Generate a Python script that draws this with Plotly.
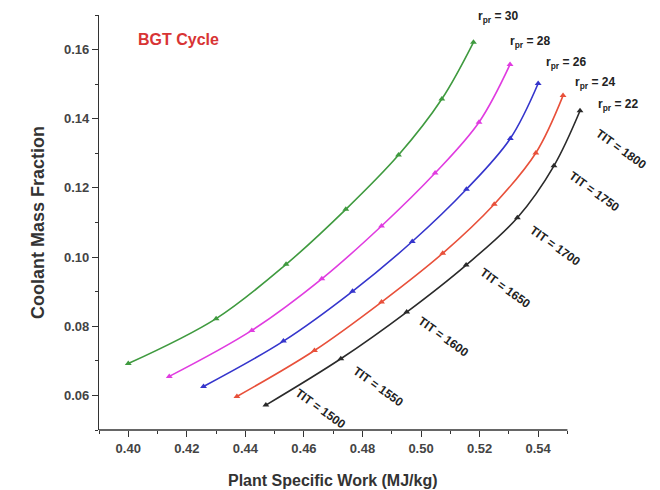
import plotly.graph_objects as go

# ---- data ----
pressure_ratios = [30, 28, 26, 24, 22]
tit_values = [1500, 1550, 1600, 1650, 1700, 1750, 1800]

work_rp30 = [0.400, 0.430, 0.4539, 0.4743, 0.4923, 0.5071, 0.5179]
cmf_rp30 = [0.0692, 0.0822, 0.0979, 0.1138, 0.1295, 0.1457, 0.1621]

work_rp28 = [0.414, 0.4422, 0.4661, 0.4865, 0.5048, 0.5198, 0.5304]
cmf_rp28 = [0.0655, 0.0788, 0.0937, 0.109, 0.1243, 0.139, 0.1557]

work_rp26 = [0.4257, 0.453, 0.4766, 0.497, 0.5155, 0.5305, 0.540]
cmf_rp26 = [0.0626, 0.0757, 0.0901, 0.1045, 0.1196, 0.1343, 0.1502]

work_rp24 = [0.4371, 0.4636, 0.4865, 0.5074, 0.525, 0.5392, 0.5485]
cmf_rp24 = [0.0597, 0.073, 0.087, 0.1011, 0.1153, 0.1301, 0.1467]

work_rp22 = [0.447, 0.4726, 0.4951, 0.5154, 0.5329, 0.5454, 0.5543]
cmf_rp22 = [0.0572, 0.0706, 0.0841, 0.0977, 0.1114, 0.1264, 0.1423]

x_ticks = [0.40, 0.42, 0.44, 0.46, 0.48, 0.50, 0.52, 0.54]
y_ticks = [0.06, 0.08, 0.10, 0.12, 0.14, 0.16]

series = [
    (work_rp30, cmf_rp30, "#3f9a3f"),
    (work_rp28, cmf_rp28, "#e03ce0"),
    (work_rp26, cmf_rp26, "#3535cc"),
    (work_rp24, cmf_rp24, "#e8503a"),
    (work_rp22, cmf_rp22, "#2a2a2a"),
]

fig = go.Figure()
for (xs, ys, col), rp in zip(series, pressure_ratios):
    fig.add_trace(go.Scatter(
        x=xs, y=ys, mode="lines+markers", name=f"rpr={rp}",
        line=dict(color=col, width=1.6, shape="spline", smoothing=1.0),
        marker=dict(symbol="triangle-up", size=6, color=col),
        showlegend=False, cliponaxis=False,
    ))

annotations = []
label_font = dict(family="Arial", size=12, color="#222222", weight="bold")
# r_pr labels near top points
rp_shift = [(25, 25), (20, 22), (28, 20), (32, 13), (38, 6)]
for (xs, ys, col), rp, (dx, dy) in zip(series, pressure_ratios, rp_shift):
    annotations.append(dict(
        x=xs[-1], y=ys[-1], xref="x", yref="y",
        text=f"r<sub>pr</sub> = {rp}", showarrow=False,
        xanchor="center", yanchor="middle",
        xshift=dx, yshift=dy, font=label_font,
    ))

# TIT labels along the rp=22 curve
tit_shift = [(55, -4), (38, -28), (37, -25), (39, -23), (38, -28), (41, -26), (41, -38)]
for xv, yv, t, (dx, dy) in zip(work_rp22, cmf_rp22, tit_values, tit_shift):
    annotations.append(dict(
        x=xv, y=yv, xref="x", yref="y",
        text=f"TIT = {t}", showarrow=False, textangle=36,
        xanchor="center", yanchor="middle",
        xshift=dx, yshift=dy, font=label_font,
    ))

annotations.append(dict(
    x=(178 - 99) / 486.0, y=1 - (40 - 15) / 415.0, xref="paper", yref="paper",
    text="BGT Cycle", showarrow=False, xanchor="center", yanchor="middle",
    font=dict(family="Arial", size=16, color="#d83434", weight="bold"),
))

annotations.append(dict(
    x=(333 - 99) / 486.0, y=-(480 - 430) / 415.0, xref="paper", yref="paper",
    text="Plant Specific Work (MJ/kg)", showarrow=False,
    xanchor="center", yanchor="middle",
    font=dict(family="Arial", size=16, color="#333333", weight="bold"),
))

tick_font = dict(family="Arial", size=13, color="#444444", weight="bold")

fig.update_layout(
    width=660, height=490,
    margin=dict(l=99, r=75, t=15, b=60),
    paper_bgcolor="white", plot_bgcolor="white",
    xaxis=dict(
        range=[0.39, 0.556], tickvals=x_ticks,
        ticktext=[f"{v:.2f}" for v in x_ticks],
        showgrid=False, zeroline=False, showline=False,
        ticks="outside", ticklen=6, tickwidth=1.2, tickcolor="#333333",
        tickfont=tick_font,
        minor=dict(dtick=0.01, tick0=0.39, ticks="outside", ticklen=3,
                   tickcolor="#333333", showgrid=False),
    ),
    yaxis=dict(
        range=[0.05, 0.17], tickvals=y_ticks,
        ticktext=[f"{v:.2f}" for v in y_ticks],
        showgrid=False, zeroline=False, showline=True,
        linecolor="#333333", linewidth=1.3,
        ticks="outside", ticklen=6, tickwidth=1.2, tickcolor="#333333",
        tickfont=tick_font,
        minor=dict(dtick=0.01, tick0=0.05, ticks="outside", ticklen=3,
                   tickcolor="#333333", showgrid=False),
        title=dict(text="Coolant Mass Fraction", standoff=14,
                   font=dict(family="Arial", size=18, color="#333333",
                             weight="bold")),
    ),
    shapes=[dict(type="line", xref="x", yref="paper", x0=0.39, x1=0.55,
                 y0=0, y1=0, line=dict(color="#333333", width=1.3))],
    annotations=annotations,
)

fig.write_html("out.html")
